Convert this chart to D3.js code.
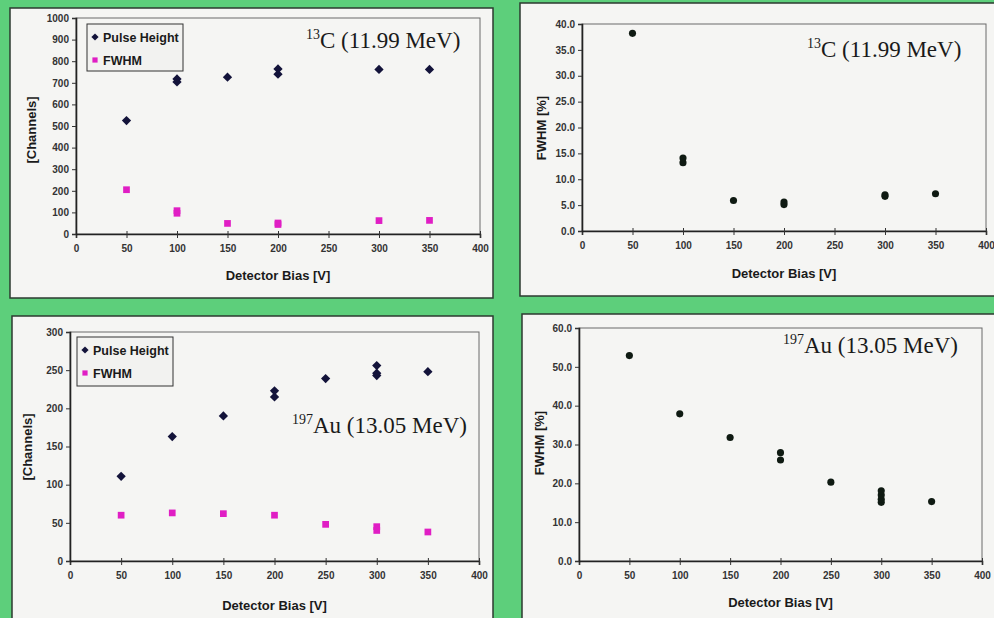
<!DOCTYPE html>
<html>
<head>
<meta charset="utf-8">
<script src="https://cdn.jsdelivr.net/npm/d3@7"></script>
<style>
  body { margin: 0; background: #5dcf7b; }
  svg { display: block; }
  .tick text { font-family: "Liberation Sans", Arial, sans-serif; font-size: 10px; font-weight: bold; fill: #333; }
  .axtitle { font-family: "Liberation Sans", Arial, sans-serif; font-size: 13px; font-weight: bold; fill: #1a1a1a; }
  .ptitle { font-family: "Liberation Serif", "Times New Roman", serif; font-size: 23px; fill: #1a1a1a; }
  .leg { font-family: "Liberation Sans", Arial, sans-serif; font-size: 12.5px; font-weight: bold; fill: #1a1a1a; }
</style>
</head>
<body>
<div id="chart"></div>
<script>
// bias voltages, the x value of every measurement
var biasTicks = [0, 50, 100, 150, 200, 250, 300, 350, 400];

// 13C (11.99 MeV) - pulse height and FWHM in channels
var c13PhBias   = [50, 100, 100, 150, 200, 200, 300, 350];
var c13PhVal    = [525, 704, 718, 726, 740, 764, 762, 762];
var c13FwBias   = [50, 100, 100, 150, 200, 200, 300, 350];
var c13FwVal    = [205, 96, 108, 49, 44, 51, 62, 63];

// 13C - FWHM in percent
var c13PctBias  = [50, 100, 100, 150, 200, 200, 300, 300, 350];
var c13PctVal   = [38.2, 13.2, 14.1, 5.9, 5.1, 5.6, 6.7, 7.0, 7.2];

// 197Au (13.05 MeV) - pulse height and FWHM in channels
var au197PhBias = [50, 100, 150, 200, 200, 250, 300, 300, 300, 350];
var au197PhVal  = [111, 163, 190, 215, 223, 239, 243, 246, 256, 248];
var au197FwBias = [50, 100, 150, 200, 250, 300, 300, 350];
var au197FwVal  = [60, 63, 62, 60, 48, 40, 45, 38];

// 197Au - FWHM in percent
var au197PctBias = [50, 100, 150, 200, 200, 250, 300, 300, 300, 300, 350];
var au197PctVal  = [52.9, 37.9, 31.8, 26.0, 27.9, 20.3, 15.1, 15.9, 17.0, 18.1, 15.3];

var svg = d3.select("#chart").append("svg")
    .attr("width", 994)
    .attr("height", 618);

function zip(xs, ys) {
  return xs.map(function(x, i) { return {x: x, y: ys[i]}; });
}

function drawPanel(p) {
  // white card behind the chart
  svg.append("rect")
      .attr("x", p.card[0]).attr("y", p.card[1])
      .attr("width", p.card[2]).attr("height", p.card[3])
      .attr("fill", "#f5f5f3")
      .attr("stroke", "#2c3a30").attr("stroke-width", 1.5);

  var x = d3.scaleLinear().domain([0, 400]).range([p.plot[0], p.plot[1]]);
  var y = d3.scaleLinear().domain([0, p.ymax]).range([p.plot[3], p.plot[2]]);

  // frame of the plot area (top / right thin grey)
  svg.append("rect")
      .attr("x", p.plot[0]).attr("y", p.plot[2])
      .attr("width", p.plot[1] - p.plot[0]).attr("height", p.plot[3] - p.plot[2])
      .attr("fill", "none").attr("stroke", "#6a6a6a").attr("stroke-width", 1);

  var xAxis = svg.append("g")
      .attr("transform", "translate(0," + p.plot[3] + ")")
      .call(d3.axisBottom(x).tickValues(biasTicks).tickSize(4).tickPadding(7).tickFormat(d3.format("d")));
  xAxis.select(".domain").attr("stroke", "#222").attr("stroke-width", 1.6);
  xAxis.selectAll(".tick line").attr("y1", -3).attr("stroke", "#333");

  var yAxis = svg.append("g")
      .attr("transform", "translate(" + p.plot[0] + ",0)")
      .call(d3.axisLeft(y).tickValues(p.yticks).tickSize(4).tickPadding(3).tickFormat(p.yfmt));
  yAxis.select(".domain").attr("stroke", "#222").attr("stroke-width", 1.6);
  yAxis.selectAll(".tick line").attr("stroke", "#333");

  // axis titles
  svg.append("text").attr("class", "axtitle")
      .attr("x", (p.plot[0] + p.plot[1]) / 2).attr("y", p.xtY)
      .attr("text-anchor", "middle")
      .text("Detector Bias [V]");
  svg.append("text").attr("class", "axtitle")
      .attr("transform", "translate(" + p.ytX + "," + p.ytY + ") rotate(-90)")
      .attr("text-anchor", "middle")
      .text(p.ytitle);

  // series
  p.series.forEach(function(s) {
    var sym = d3.symbol().type(s.shape).size(s.size);
    svg.append("g").selectAll("path")
        .data(zip(s.xs, s.ys))
        .join("path")
        .attr("d", sym)
        .attr("transform", function(d) { return "translate(" + x(d.x) + "," + y(d.y) + ")"; })
        .attr("fill", s.color);
  });

  // nucleus label with superscript
  var t = svg.append("text").attr("class", "ptitle")
      .attr("x", p.title[0]).attr("y", p.title[1]);
  t.append("tspan").attr("font-size", "14px").attr("dy", -9).text(p.iso);
  t.append("tspan").attr("dy", 9).text(p.label);

  // legend
  if (p.legend) {
    var L = p.legend;
    svg.append("rect")
        .attr("x", L[0]).attr("y", L[1]).attr("width", L[2]).attr("height", L[3])
        .attr("fill", "#f2f2f0").attr("stroke", "#333").attr("stroke-width", 1);
    p.series.forEach(function(s, i) {
      var cy = L[1] + 13 + i * 23;
      svg.append("path")
          .attr("d", d3.symbol().type(s.shape).size(s.size * 0.6))
          .attr("transform", "translate(" + (L[0] + 8) + "," + cy + ")")
          .attr("fill", s.color);
      svg.append("text").attr("class", "leg")
          .attr("x", L[0] + 16).attr("y", cy + 4.5)
          .text(s.name);
    });
  }
}

var navy = "#13133a", magenta = "#e01ec4", dot = "#0f1a12";

drawPanel({
  card: [10, 8, 483, 290],
  plot: [76, 480, 18, 234],
  ymax: 1000, yticks: d3.range(0, 1001, 100), yfmt: d3.format("d"),
  ytitle: "[Channels]", ytX: 36, ytY: 130, xtY: 280,
  iso: "13", label: "C (11.99 MeV)", title: [306, 48],
  legend: [87, 24, 96, 47],
  series: [
    {name: "Pulse Height", xs: c13PhBias, ys: c13PhVal, shape: d3.symbolDiamond2, size: 55, color: navy},
    {name: "FWHM", xs: c13FwBias, ys: c13FwVal, shape: d3.symbolSquare, size: 45, color: magenta}
  ]
});

drawPanel({
  card: [520, 3, 480, 293],
  plot: [582, 986, 24, 231],
  ymax: 40, yticks: d3.range(0, 40.1, 5), yfmt: d3.format(".1f"),
  ytitle: "FWHM [%]", ytX: 546, ytY: 128, xtY: 278,
  iso: "13", label: "C (11.99 MeV)", title: [807, 57],
  series: [
    {name: "FWHM", xs: c13PctBias, ys: c13PctVal, shape: d3.symbolCircle, size: 40, color: dot}
  ]
});

drawPanel({
  card: [12, 316, 481, 310],
  plot: [70, 479, 332, 561],
  ymax: 300, yticks: d3.range(0, 301, 50), yfmt: d3.format("d"),
  ytitle: "[Channels]", ytX: 32, ytY: 447, xtY: 610,
  iso: "197", label: "Au (13.05 MeV)", title: [292, 433],
  legend: [77, 337, 96, 49],
  series: [
    {name: "Pulse Height", xs: au197PhBias, ys: au197PhVal, shape: d3.symbolDiamond2, size: 55, color: navy},
    {name: "FWHM", xs: au197FwBias, ys: au197FwVal, shape: d3.symbolSquare, size: 45, color: magenta}
  ]
});

drawPanel({
  card: [522, 314, 480, 310],
  plot: [579, 982, 328, 561],
  ymax: 60, yticks: d3.range(0, 60.1, 10), yfmt: d3.format(".1f"),
  ytitle: "FWHM [%]", ytX: 544, ytY: 443, xtY: 607,
  iso: "197", label: "Au (13.05 MeV)", title: [783, 353],
  series: [
    {name: "FWHM", xs: au197PctBias, ys: au197PctVal, shape: d3.symbolCircle, size: 40, color: dot}
  ]
});
</script>
</body>
</html>
